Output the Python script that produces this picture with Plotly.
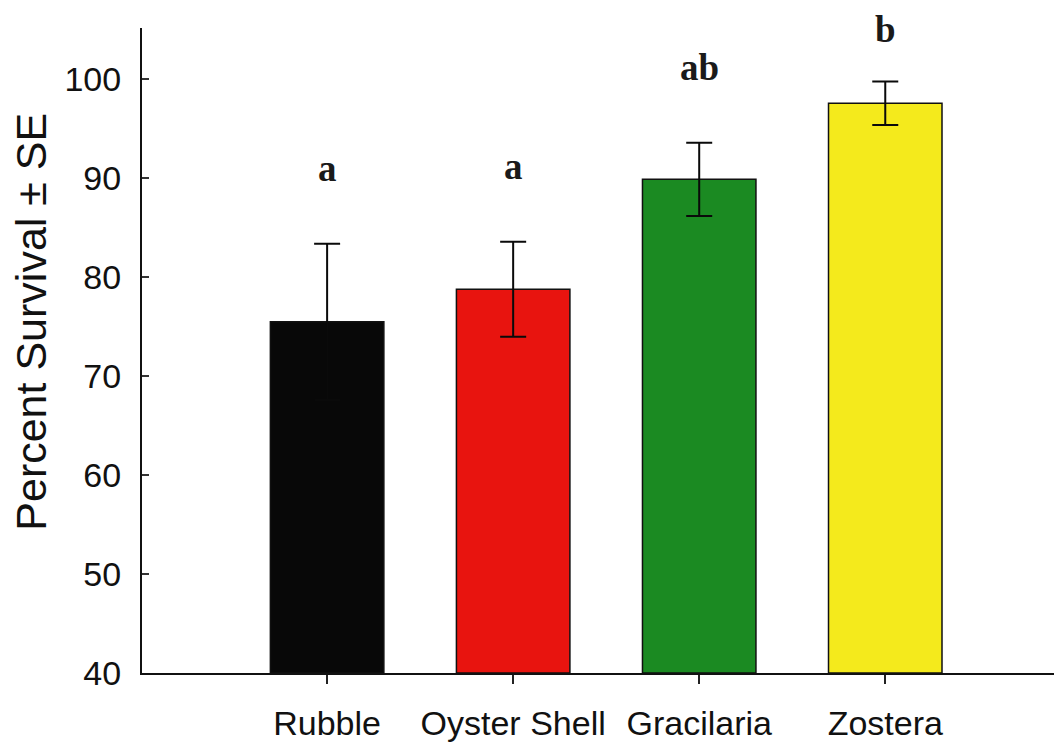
import plotly.graph_objects as go

categories = ["Rubble", "Oyster Shell", "Gracilaria", "Zostera"]
survival = [75.5, 78.8, 89.9, 97.6]
se = [7.9, 4.8, 3.7, 2.2]
letters = ["a", "a", "ab", "b"]
bar_colors = ["#080808", "#e8140f", "#1b8a22", "#f4ea1c"]
y_ticks = [40, 50, 60, 70, 80, 90, 100]

Y_MIN, Y_MAX = 40, 105.2

fig = go.Figure()
fig.add_trace(go.Bar(
    x=list(range(len(categories))),
    y=[v - Y_MIN for v in survival],
    base=Y_MIN,
    width=0.61,
    marker=dict(color=bar_colors, line=dict(color="#111111", width=1.5)),
    error_y=dict(type="data", array=se, visible=True, color="#0a0a0a",
                 thickness=2, width=13),
    hoverinfo="skip",
    cliponaxis=False,
))

for i, (v, s, t) in enumerate(zip(survival, se, letters)):
    y_val = min(v + s + 7.6, Y_MAX - 0.2)
    y_paper = (y_val - Y_MIN) / (Y_MAX - Y_MIN)
    fig.add_annotation(x=i, y=y_paper, text="<b>" + t + "</b>", showarrow=False,
                       xref="x", yref="paper", yanchor="middle",
                       font=dict(family="Liberation Serif", size=37, color="#1a1a1a"))

fig.add_annotation(text="Percent Survival ± SE", textangle=-90, showarrow=False,
                   xref="paper", yref="paper", x=-0.12, y=0.544,
                   xanchor="center", yanchor="middle",
                   font=dict(family="Liberation Sans", size=43, color="#111111"))

fig.update_layout(
    width=1054, height=734,
    margin=dict(l=134, r=0, t=20, b=69, autoexpand=False),
    paper_bgcolor="white", plot_bgcolor="white",
    showlegend=False,
    font=dict(family="Liberation Sans", color="#111111"),
)
fig.update_xaxes(
    range=[-0.995, 3.95],
    tickvals=list(range(len(categories))), ticktext=categories,
    ticks="outside", ticklen=9, tickwidth=2, tickcolor="#222222",
    showline=True, linecolor="#111111", linewidth=2,
    showgrid=False, zeroline=False, automargin=False,
    tickfont=dict(size=34, color="#111111"),
    ticklabelstandoff=10,
)
fig.update_yaxes(
    range=[Y_MIN, Y_MAX],
    tickvals=y_ticks,
    ticks="inside", ticklen=7, tickwidth=2, tickcolor="#333333",
    showline=True, linecolor="#111111", linewidth=2,
    showgrid=False, zeroline=False, automargin=False,
    tickfont=dict(size=34, color="#111111"),
    ticklabelstandoff=12,
)

fig.write_html("out.html")
